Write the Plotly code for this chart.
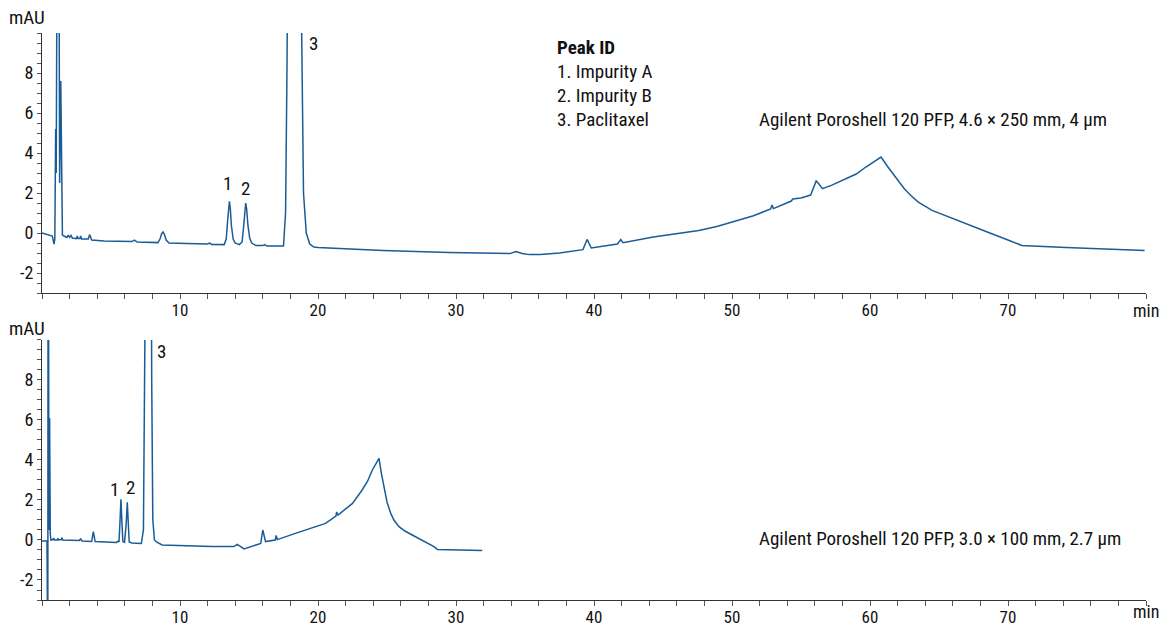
import plotly.graph_objects as go

# ---------------- data ----------------
top_time = [0, 0.6, 0.75, 0.87, 0.93, 0.99, 1.03, 1.09, 1.16, 1.23, 1.28, 1.36, 1.42, 1.48, 1.6,
            1.8, 1.9, 2.0, 2.1, 2.2, 2.5, 2.55, 2.62, 2.75, 2.8, 2.87, 3.35, 3.45, 3.6, 4.5,
            6.5, 6.7, 6.9, 8.4, 8.55, 8.68, 8.77, 8.86, 9.0, 9.2, 10.5, 12.0, 12.15, 12.3,
            13.2, 13.35, 13.45, 13.52, 13.58, 13.65, 13.72, 13.85, 14.0, 14.3,
            14.5, 14.62, 14.7, 14.76, 14.83, 14.92, 15.05, 15.2, 15.5, 16.0, 16.15, 16.3,
            17.5, 17.65, 17.75, 17.85, 18.3, 18.75, 18.85, 18.95, 19.15, 19.4, 19.7, 20.0,
            24.7, 29.5, 33.9, 34.35, 34.8, 35.3, 36.1, 37.5, 39.2, 39.5, 39.8, 41.7, 41.94, 42.1,
            44.3, 46.45, 47.6, 48.9, 50.0, 51.5, 52.8, 52.9, 53.0, 54.3, 54.4, 55.0, 55.7, 55.9, 56.1,
            56.3, 56.55, 57.2, 58.0, 59.0, 59.7, 60.3, 60.8, 61.3, 61.9, 62.5, 63.0, 63.5, 64.5, 65.5,
            66.95, 68.5, 70.0, 71.0, 74.2, 79.9]
top_mau = [0.0, -0.12, -0.15, -0.55, -0.3, 5.2, 3.0, 14, 30, 14, 2.5, 7.6, 1.0, -0.1, -0.15,
           -0.22, -0.1, -0.22, -0.12, -0.25, -0.28, -0.15, -0.28, -0.28, -0.15, -0.3, -0.3, -0.08, -0.35, -0.4,
           -0.43, -0.35, -0.45, -0.48, -0.3, -0.02, 0.05, -0.05, -0.35, -0.5, -0.52, -0.55, -0.5, -0.57,
           -0.58, -0.3, 0.6, 1.4, 1.58, 1.2, 0.4, -0.3, -0.5, -0.58,
           -0.45, 0.4, 1.2, 1.5, 1.2, 0.4, -0.25, -0.5, -0.63, -0.63, -0.58, -0.65,
           -0.65, 1.0, 8.0, 14, 60, 14, 8.0, 2.0, 0.0, -0.55, -0.7, -0.72,
           -0.87, -0.98, -1.03, -0.92, -1.02, -1.08, -1.08, -1.0, -0.83, -0.32, -0.75, -0.55, -0.33, -0.48,
           -0.2, 0.02, 0.13, 0.33, 0.55, 0.85, 1.2, 1.4, 1.22, 1.6, 1.7, 1.75, 1.9, 2.3, 2.6,
           2.45, 2.22, 2.38, 2.63, 2.95, 3.3, 3.55, 3.8, 3.3, 2.72, 2.2, 1.85, 1.55, 1.13, 0.85,
           0.47, 0.05, -0.35, -0.62, -0.73, -0.87]

bottom_time = [0, 0.36, 0.42, 0.45, 0.5, 0.55, 0.6, 0.65, 0.8, 0.85, 0.9, 1.1, 1.15, 1.2, 1.4,
               1.45, 1.5, 2.7, 2.8, 2.9, 3.6, 3.72, 3.85, 5.4, 5.5, 5.58, 5.65, 5.72, 5.79, 5.86, 5.98,
               6.1, 6.18, 6.25, 6.32, 6.5, 7.2, 7.35, 7.45, 7.5, 7.7, 7.88, 7.95, 8.03, 8.15, 8.3, 8.7,
               12.3, 13.9, 14.15, 14.64, 15.85, 16.0, 16.2, 16.9, 16.97, 17.05, 18.36, 19.35,
               20.55, 21.3, 21.35, 21.45, 22.5, 23.2, 23.6, 23.94, 24.2, 24.42, 24.6, 24.78,
               25.0, 25.27, 25.5, 25.87, 26.3, 26.83, 27.6, 28.4, 28.65, 30.7, 31.9]
bottom_mau = [-0.05, -0.05, -6, 25, 0.5, 6.1, 0.3, 0.0, 0.02, 0.1, 0.0, 0.0, 0.08, 0.0, 0.02,
              0.12, 0.0, -0.02, 0.05, -0.05, -0.07, 0.42, -0.08, -0.12, -0.06, -0.1, 0.9, 2.03, 0.9, -0.08, -0.12,
              0.8, 1.88, 0.8, -0.1, -0.15, -0.17, 0.5, 8, 14, 60, 14, 8, 1.0, 0.0, -0.1, -0.25,
              -0.33, -0.33, -0.22, -0.45, -0.17, 0.5, -0.08, 0.0, 0.23, 0.02, 0.33, 0.55,
              0.83, 1.2, 1.4, 1.25, 1.83, 2.5, 2.95, 3.5, 3.8, 4.08, 3.3, 2.67,
              1.9, 1.33, 1.0, 0.67, 0.45, 0.25, -0.02, -0.33, -0.47, -0.5, -0.53]

x_tick_vals = [10, 20, 30, 40, 50, 60, 70]
x_tick_text = ["10", "20", "30", "40", "50", "60", "70"]
y_tick_vals = [-2, 0, 2, 4, 6, 8]
y_tick_text = ["-2", "0", "2", "4", "6", "8"]

top_peak_labels = ["1", "2", "3"]
top_peak_label_t = [13.46, 14.76, 19.7]
top_peak_label_y = [2.5, 2.24, 9.5]
bottom_peak_labels = ["1", "2", "3"]
bottom_peak_label_t = [5.27, 6.43, 8.67]
bottom_peak_label_y = [2.5, 2.6, 9.4]

peak_id_title = "Peak ID"
peak_id_items = ["1. Impurity A", "2. Impurity B", "3. Paclitaxel"]
top_column = "Agilent Poroshell 120 PFP, 4.6 × 250 mm, 4 µm"
bottom_column = "Agilent Poroshell 120 PFP, 3.0 × 100 mm, 2.7 µm"

# ---------------- style ----------------
FONT = "Roboto Condensed, Liberation Sans Narrow, Liberation Sans, Arial, sans-serif"
LINE = "#1a5c96"
AX = "#333333"

fig = go.Figure()
fig.add_trace(go.Scatter(x=top_time, y=top_mau, mode="lines",
                         line=dict(color=LINE, width=1.5), xaxis="x", yaxis="y",
                         showlegend=False, hoverinfo="skip"))
fig.add_trace(go.Scatter(x=bottom_time, y=bottom_mau, mode="lines",
                         line=dict(color=LINE, width=1.5), xaxis="x2", yaxis="y2",
                         showlegend=False, hoverinfo="skip"))


def xaxis_cfg(anchor):
    return dict(range=[0, 80], anchor=anchor, showline=True, linecolor=AX, linewidth=1,
                ticks="outside", ticklen=5, tickcolor="#555", tickwidth=1,
                tickmode="array", tickvals=x_tick_vals, ticktext=x_tick_text,
                ticklabelstandoff=-3,
                minor=dict(tickmode="linear", tick0=0, dtick=2, ticks="outside",
                           ticklen=5, tickcolor="#555", tickwidth=1, showgrid=False),
                showgrid=False, zeroline=False, automargin=False,
                tickfont=dict(family=FONT, size=17, color="#111"))


def yaxis_cfg(anchor, domain):
    return dict(range=[-3, 10], domain=domain, anchor=anchor, showline=True, linecolor=AX,
                linewidth=1, ticks="outside", ticklen=4, tickcolor="#555", tickwidth=1,
                tickmode="array", tickvals=y_tick_vals, ticktext=y_tick_text,
                minor=dict(tickmode="linear", tick0=0, dtick=0.5, ticks="outside",
                           ticklen=4, tickcolor="#555", tickwidth=1, showgrid=False),
                showgrid=False, zeroline=False, automargin=False,
                tickfont=dict(family=FONT, size=18, color="#111"))


annotations = []
txt = dict(family=FONT, size=19, color="#111")
for lab, t, y in zip(top_peak_labels, top_peak_label_t, top_peak_label_y):
    annotations.append(dict(text=lab, x=t, y=y, xref="x", yref="y", showarrow=False, font=txt))
for lab, t, y in zip(bottom_peak_labels, bottom_peak_label_t, bottom_peak_label_y):
    annotations.append(dict(text=lab, x=t, y=y, xref="x2", yref="y2", showarrow=False, font=txt))

annotations.append(dict(text="<b>" + peak_id_title + "</b>", x=37.2, y=9.28, xref="x", yref="y",
                        xanchor="left", showarrow=False, font=txt))
for i, item in enumerate(peak_id_items):
    annotations.append(dict(text=item, x=37.2, y=8.08 - 1.2 * i, xref="x", yref="y",
                            xanchor="left", showarrow=False, font=txt))
annotations.append(dict(text=top_column, x=51.8, y=5.68, xref="x", yref="y",
                        xanchor="left", showarrow=False, font=txt))
annotations.append(dict(text=bottom_column, x=51.8, y=0.05, xref="x2", yref="y2",
                        xanchor="left", showarrow=False, font=txt))

for yp in [1.028, 0.478]:
    annotations.append(dict(text="mAU", x=-0.0136, y=yp, xref="paper", yref="paper",
                            xanchor="center", yanchor="middle", showarrow=False, font=txt))
for yp in [0.511, -0.02]:
    annotations.append(dict(text="min", x=1.0, y=yp, xref="paper", yref="paper",
                            xanchor="center", yanchor="middle", showarrow=False,
                            font=dict(family=FONT, size=18, color="#111")))

fig.update_layout(
    width=1162, height=626,
    margin=dict(l=42, r=16, t=33, b=26),
    paper_bgcolor="white", plot_bgcolor="white",
    xaxis=xaxis_cfg("y"),
    yaxis=yaxis_cfg("x", [0.5414, 1.0]),
    xaxis2=xaxis_cfg("y2"),
    yaxis2=yaxis_cfg("x2", [0.0, 0.4586]),
    annotations=annotations,
    font=dict(family=FONT),
)

fig.write_html("out.html", config={"displayModeBar": False},
               post_script="document.body.style.margin='0';document.body.style.overflow='hidden';")
